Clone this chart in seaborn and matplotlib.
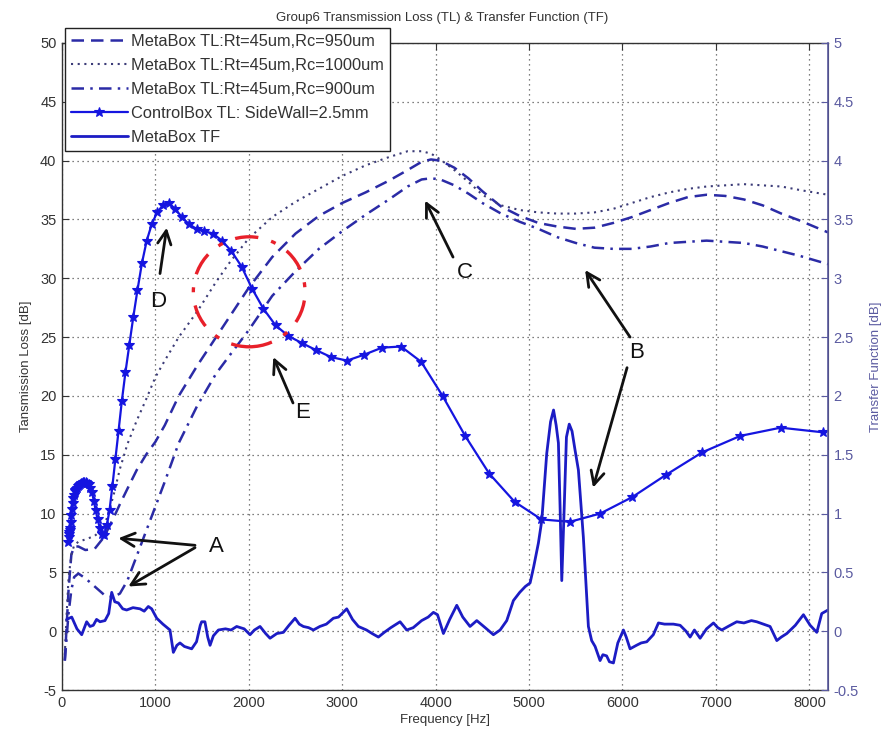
import matplotlib
matplotlib.use("Agg")
import matplotlib.pyplot as plt
from matplotlib.patches import Ellipse
import seaborn as sns
import pandas as pd

# ---------------- data ----------------
freq_meta = [30, 50, 70, 100, 130, 175, 250, 350, 450, 550, 620, 700, 800, 900, 1000, 1100,
             1250, 1450, 1650, 1800, 2000, 2250, 2500, 2750, 3000, 3250, 3500, 3700, 3850,
             3950, 4050, 4200, 4350, 4500, 4700, 4900, 5100, 5300, 5500, 5700, 5900, 6100,
             6300, 6500, 6700, 6900, 7100, 7300, 7500, 7700, 7900, 8200]
tl_rc950 = [-2.5, 0.5, 3.5, 6.5, 7.2, 7.2, 6.9, 7.0, 8.0, 9.6, 10.8, 12.1, 13.7, 15.0, 16.1, 17.5,
            20.0, 22.6, 25.0, 26.8, 29.2, 31.8, 33.8, 35.3, 36.4, 37.3, 38.3, 39.2, 39.9,
            40.1, 40.0, 39.4, 38.5, 37.4, 36.1, 35.3, 34.7, 34.4, 34.2, 34.3, 34.7, 35.2,
            35.8, 36.4, 36.9, 37.1, 37.0, 36.7, 36.2, 35.5, 34.9, 33.9]
tl_rc1000 = [-2.0, 1.5, 4.5, 6.5, 7.3, 7.6, 7.8, 8.1, 8.8, 11.5, 13.8, 15.9, 17.9, 19.7, 21.6, 23.0,
             25.0, 27.2, 29.7, 31.4, 33.4, 35.2, 36.5, 37.6, 38.7, 39.6, 40.3, 40.8, 40.8,
             40.6, 40.1, 39.2, 38.2, 37.1, 36.2, 35.8, 35.6, 35.5, 35.5, 35.6, 35.9, 36.4,
             36.9, 37.3, 37.6, 37.8, 37.9, 38.0, 37.9, 37.8, 37.5, 37.1]
tl_rc900 = [-2.5, -0.5, 1.5, 3.5, 4.6, 4.9, 4.5, 3.8, 3.1, 2.9, 3.2, 4.3, 6.4, 8.5, 10.6, 12.7,
            16.0, 19.2, 21.9, 23.5, 25.6, 28.5, 30.6, 32.5, 34.0, 35.4, 36.7, 37.8, 38.4,
            38.5, 38.4, 37.9, 37.2, 36.4, 35.5, 34.8, 34.2, 33.5, 33.0, 32.6, 32.5, 32.5,
            32.7, 33.0, 33.1, 33.2, 33.1, 33.0, 32.7, 32.3, 31.9, 31.2]

freq_ctrl = [67, 71, 76, 80, 85, 90, 95, 101, 107, 113, 120, 127, 135, 143, 151, 160, 170, 180,
             191, 202, 214, 227, 240, 255, 270, 286, 303, 321, 340, 360, 381, 404, 428, 453,
             480, 509, 539, 571, 605, 641, 679, 720, 763, 808, 856, 907, 961, 1018, 1079,
             1143, 1211, 1283, 1359, 1440, 1525, 1616, 1712, 1814, 1922, 2036, 2157, 2286,
             2422, 2566, 2718, 2880, 3051, 3233, 3425, 3629, 3845, 4074, 4316, 4573, 4845,
             5133, 5438, 5762, 6105, 6468, 6853, 7261, 7693, 8151]
tl_ctrl = [7.6, 8.0, 8.3, 8.4, 8.6, 8.8, 9.3, 9.9, 10.4, 10.9, 11.3, 11.6, 11.9, 12.0, 12.1,
           12.2, 12.3, 12.4, 12.5, 12.6, 12.6, 12.7, 12.7, 12.7, 12.6, 12.5, 12.2, 11.8, 11.1,
           10.3, 9.5, 8.8, 8.3, 8.2, 9.0, 10.3, 12.3, 14.6, 17.0, 19.6, 22.0, 24.3, 26.7,
           29.0, 31.3, 33.2, 34.6, 35.6, 36.2, 36.4, 35.9, 35.2, 34.6, 34.2, 34.0, 33.8, 33.2,
           32.3, 31.0, 29.1, 27.4, 26.0, 25.1, 24.5, 23.9, 23.3, 23.0, 23.5, 24.1, 24.2, 22.9,
           20.0, 16.6, 13.4, 11.0, 9.5, 9.3, 10.0, 11.4, 13.3, 15.2, 16.6, 17.3, 16.9]

freq_tf = [50, 104, 160, 211, 264, 300, 335, 370, 407, 460, 500, 532, 565, 603, 650, 692, 760,
           835, 880, 924, 960, 1014, 1080, 1156, 1192, 1230, 1263, 1310, 1388, 1440, 1480,
           1495, 1530, 1560, 1585, 1620, 1674, 1750, 1810, 1870, 1950, 2013, 2060, 2120,
           2180, 2227, 2300, 2370, 2430, 2495, 2540, 2584, 2640, 2691, 2760, 2830, 2905,
           2960, 3048, 3110, 3173, 3260, 3320, 3387, 3450, 3520, 3580, 3619, 3690, 3760,
           3850, 3920, 3976, 4020, 4083, 4150, 4226, 4290, 4368, 4440, 4530, 4618, 4690,
           4761, 4832, 4900, 4960, 5011, 5050, 5100, 5136, 5189, 5230, 5262, 5290, 5314,
           5332, 5350, 5372, 5400, 5430, 5460, 5490, 5528, 5581, 5635, 5670, 5707, 5760,
           5790, 5830, 5860, 5903, 5950, 6010, 6040, 6081, 6150, 6200, 6260, 6330, 6385,
           6450, 6545, 6617, 6680, 6724, 6770, 6831, 6900, 6974, 7020, 7063, 7130, 7223,
           7300, 7380, 7437, 7510, 7580, 7652, 7700, 7759, 7850, 7937, 8009, 8080, 8133, 8200]
tf_meta = [0.10, 0.12, 0.02, -0.03, 0.08, 0.04, 0.05, 0.10, 0.08, 0.09, 0.15, 0.33, 0.25, 0.24,
           0.19, 0.18, 0.20, 0.19, 0.17, 0.21, 0.19, 0.11, 0.06, 0.01, -0.18, -0.12, -0.10,
           -0.13, -0.15, -0.09, 0.05, 0.08, 0.08, -0.05, -0.12, -0.04, 0.01, 0.02, 0.01, 0.04,
           0.02, -0.03, 0.01, 0.04, -0.02, -0.06, -0.02, -0.01, 0.05, 0.11, 0.06, 0.04, 0.03,
           0.01, 0.04, 0.06, 0.11, 0.12, 0.19, 0.10, 0.04, 0.01, -0.02, -0.05, -0.01, 0.03,
           0.06, 0.08, 0.01, 0.03, 0.09, 0.12, 0.16, 0.14, -0.02, 0.10, 0.22, 0.12, 0.04, 0.09,
           0.03, -0.03, 0.01, 0.09, 0.26, 0.33, 0.38, 0.41, 0.55, 0.75, 0.94, 1.51, 1.78, 1.88,
           1.75, 1.60, 1.05, 0.43, 0.95, 1.65, 1.76, 1.70, 1.55, 1.37, 0.80, 0.04, -0.08,
           -0.13, -0.25, -0.20, -0.21, -0.26, -0.27, -0.10, 0.01, -0.05, -0.15, -0.12, -0.10,
           -0.09, -0.03, 0.07, 0.06, 0.06, 0.05, 0.00, -0.05, 0.01, -0.06, 0.02, 0.07, 0.03,
           0.01, 0.04, 0.08, 0.07, 0.09, 0.08, 0.06, 0.04, -0.08, -0.05, -0.02, 0.05, 0.14,
           0.05, -0.01, 0.15, 0.18]

legend_labels = ["MetaBox TL:Rt=45um,Rc=950um", "MetaBox TL:Rt=45um,Rc=1000um",
                 "MetaBox TL:Rt=45um,Rc=900um", "ControlBox TL: SideWall=2.5mm", "MetaBox TF"]
title = "Group6 Transmission Loss (TL) & Transfer Function (TF)"
left_ticks = [-5, 0, 5, 10, 15, 20, 25, 30, 35, 40, 45, 50]
right_ticks = [-0.5, 0, 0.5, 1, 1.5, 2, 2.5, 3, 3.5, 4, 4.5, 5]
x_ticks = [0, 1000, 2000, 3000, 4000, 5000, 6000, 7000, 8000]

# ---------------- style ----------------
sns.set_style("white")
plt.rcParams["font.family"] = ["Liberation Sans", "DejaVu Sans"]

fig = plt.figure(figsize=(8.84, 7.33), dpi=100)
ax = fig.add_axes([62 / 884, 1 - 690 / 733, (828 - 62) / 884, (690 - 43) / 733])
ax2 = ax.twinx()

meta_col = "#2b2ba6"
dot_col = "#3c3c78"
ctrl_col = "#1515e0"
tf_col = "#1c1cc4"
axis2_col = "#5a5aa0"

df_meta = pd.DataFrame({"f": freq_meta, "a": tl_rc950, "b": tl_rc1000, "c": tl_rc900})
df_ctrl = pd.DataFrame({"f": freq_ctrl, "v": tl_ctrl})
df_tf = pd.DataFrame({"f": freq_tf, "v": tf_meta})

l1 = sns.lineplot(data=df_meta, x="f", y="a", ax=ax, color=meta_col, lw=1.8,
                  linestyle=(0, (5, 2.8)), legend=False).get_lines()[-1]
l2 = sns.lineplot(data=df_meta, x="f", y="b", ax=ax, color=dot_col, lw=1.5,
                  linestyle=(0, (1, 2.2)), legend=False).get_lines()[-1]
l3 = sns.lineplot(data=df_meta, x="f", y="c", ax=ax, color=meta_col, lw=1.8,
                  linestyle=(0, (5, 2.5, 1, 2.5)), legend=False).get_lines()[-1]
l4 = sns.lineplot(data=df_ctrl, x="f", y="v", ax=ax, color=ctrl_col, lw=1.6,
                  marker="*", markersize=7.5, markeredgewidth=0.8,
                  markeredgecolor=ctrl_col, markerfacecolor=ctrl_col,
                  legend=False).get_lines()[-1]
l5 = sns.lineplot(data=df_tf, x="f", y="v", ax=ax2, color=tf_col, lw=2.0,
                  legend=False).get_lines()[-1]

ax.set_xlim(0, 8200)
ax.set_ylim(-5, 50)
ax2.set_ylim(-0.5, 5)
ax.set_xticks(x_ticks)
ax.set_yticks(left_ticks)
ax2.set_yticks(right_ticks)
ax.set_xticklabels([str(t) for t in x_ticks])
ax.set_yticklabels([str(t) for t in left_ticks])
ax2.set_yticklabels([("%g" % t) for t in right_ticks])

ax.grid(True, linestyle=(0, (1, 3)), color="#555555", linewidth=0.9)
ax.tick_params(axis="both", direction="in", labelsize=10.5, length=5, top=True,
               colors="#333333", pad=4)
ax.tick_params(axis="y", right=False)
ax2.tick_params(axis="y", direction="in", labelsize=10.5, length=5, colors=axis2_col, pad=4)
for s in ["left", "bottom", "top"]:
    ax.spines[s].set_color("#333333")
    ax.spines[s].set_linewidth(1.0)
ax2.spines["right"].set_color(axis2_col)
ax2.spines["right"].set_linewidth(1.2)
ax2.spines["left"].set_visible(False)
ax2.spines["top"].set_visible(False)
ax2.spines["bottom"].set_visible(False)

ax.set_xlabel("Frequency [Hz]", fontsize=9.5, color="#333333", labelpad=3)
ax.set_ylabel("Tansmission Loss [dB]", fontsize=9.5, color="#333333", labelpad=6)
ax2.set_ylabel("Transfer Function [dB]", fontsize=9.5, color=axis2_col, labelpad=8)
fig.text(0.5, 1 - 18 / 733, title, ha="center", va="center", fontsize=9.5, color="#333333")

# ---------------- annotations ----------------
ell = Ellipse((2004, 28.85), width=1196, height=9.35, fill=False, edgecolor="#e8202a",
              linestyle=(0, (7, 4, 1.5, 4)), linewidth=2.4, zorder=5)
ax.add_patch(ell)

arrow_kw = dict(arrowstyle="->", color="#111111", lw=2.0, mutation_scale=24,
                shrinkA=0, shrinkB=0)
arrows = [((603, 7.9), (1424, 7.3)), ((710, 3.8), (1424, 7.1)),
          ((5600, 30.7), (6081, 25.0)), ((5685, 12.2), (6049, 22.4)),
          ((3887, 36.6), (4186, 31.8)), ((1121, 34.3), (1049, 30.4)),
          ((2262, 23.3), (2473, 19.4))]
for tip, tail in arrows:
    ax.annotate("", xy=tip, xytext=tail, arrowprops=arrow_kw, zorder=6)
labels = [("A", 1656, 7.2), ("B", 6146, 23.7), ("C", 4315, 30.5), ("D", 1028, 28.0),
          ("E", 2580, 18.6)]
for txt, fx, fy in labels:
    ax.text(fx, fy, txt, fontsize=16, ha="center", va="center", color="#111111", zorder=6)

# ---------------- legend ----------------
for a in (ax, ax2):
    lg = a.get_legend()
    if lg is not None:
        lg.remove()
leg = ax2.legend([l1, l2, l3, l4, l5], legend_labels, loc="upper left",
                 bbox_to_anchor=(65 / 884, 1 - 28 / 733), bbox_transform=fig.transFigure,
                 borderaxespad=0, fontsize=11.8, handlelength=3.5, handletextpad=0.2,
                 labelspacing=0.55, borderpad=0.35, frameon=True, fancybox=False,
                 edgecolor="#222222", framealpha=1, markerscale=1.0, numpoints=1)
leg.get_frame().set_linewidth(1.0)
for t in leg.get_texts():
    t.set_color("#333333")

fig.savefig("out.png", dpi=100, facecolor="white")
